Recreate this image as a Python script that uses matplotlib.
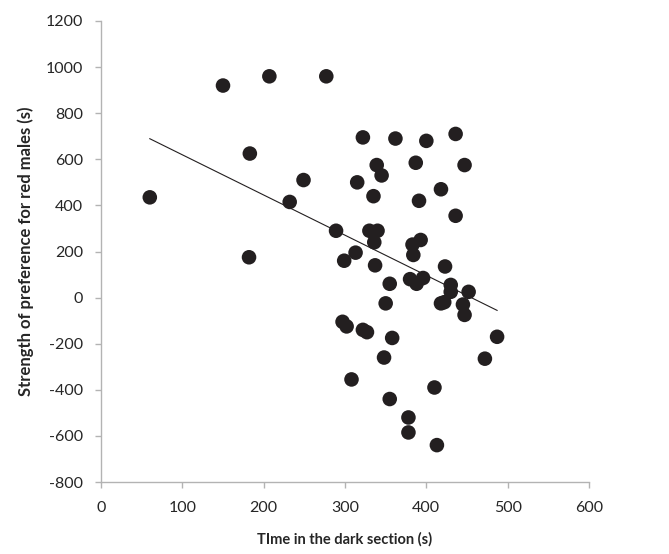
import numpy as np
import matplotlib
matplotlib.use("Agg")
import matplotlib.pyplot as plt

plt.rcParams['font.family'] = ['Lato', 'DejaVu Sans']
plt.rcParams['axes.unicode_minus'] = False

# Time in the dark section (s)
time_dark = [60, 150, 207, 277, 183, 182, 232, 249, 289, 299,
             297, 302, 308, 313, 315, 322, 322, 327, 330, 335,
             336, 337, 339, 340, 345, 348, 350, 355, 355, 358,
             362, 378, 378, 380, 383, 384, 387, 388, 391, 393,
             396, 400, 410, 413, 418, 418, 422, 423, 430, 430,
             436, 436, 445, 447, 447, 452, 472, 487]
# Strength of preference for red males (s)
preference = [435, 920, 960, 960, 625, 175, 415, 510, 290, 160,
              -105, -125, -355, 195, 500, 695, -140, -150, 290, 440,
              240, 140, 575, 290, 530, -260, -25, 60, -440, -175,
              690, -520, -585, 80, 230, 185, 585, 60, 420, 250,
              85, 680, -390, -640, 470, -25, -20, 135, 55, 25,
              710, 355, -30, 575, -75, 25, -265, -170]

x_ticks = [0, 100, 200, 300, 400, 500, 600]
y_ticks = [-800, -600, -400, -200, 0, 200, 400, 600, 800, 1000, 1200]

x_label = "TIme in the dark section (s)"
y_label = "Strength of preference for red males (s)"

fig = plt.figure(figsize=(6.69, 5.54), dpi=100)
ax = fig.add_axes([101 / 669, 72 / 554, 488 / 669, 461 / 554])

x = np.array(time_dark, dtype=float)
y = np.array(preference, dtype=float)

ax.scatter(x, y, s=110, color='#231f20', edgecolors='none', zorder=3)

slope, intercept = np.polyfit(x, y, 1)
xl = np.array([x.min(), x.max()])
ax.plot(xl, slope * xl + intercept, color='#231f20', lw=0.8, zorder=2)

ax.set_xlim(0, 600)
ax.set_ylim(-800, 1200)
ax.set_xticks(x_ticks)
ax.set_yticks(y_ticks)

for side in ['top', 'right']:
    ax.spines[side].set_visible(False)
for side in ['left', 'bottom']:
    ax.spines[side].set_color('#b3b3b3')
    ax.spines[side].set_linewidth(1.0)

ax.tick_params(axis='both', colors='#b3b3b3', length=4, width=1.0,
               labelcolor='#262626', labelsize=11.5, direction='out')
ax.tick_params(axis='x', pad=10)
ax.tick_params(axis='y', pad=9)

ax.set_xlabel(x_label, fontsize=10.5, fontweight='bold', color='#262626', labelpad=12)
ax.set_ylabel(y_label, fontsize=12, fontweight='bold', color='#262626', labelpad=8)

fig.savefig("out.png", dpi=100)
